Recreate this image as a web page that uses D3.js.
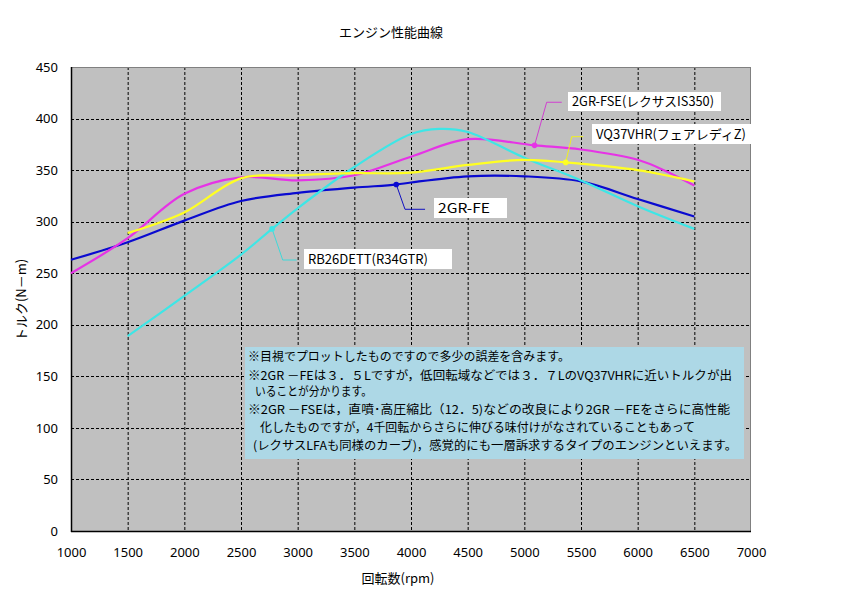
<!DOCTYPE html>
<html><head><meta charset="utf-8">
<script src="https://cdn.jsdelivr.net/npm/d3@7/dist/d3.min.js"></script>
<style>
body{margin:0;background:#fff;}
text{font-family:"Noto Sans CJK JP","Noto Sans",sans-serif;fill:#000;}
</style></head>
<body><svg id="c" width="856" height="597"></svg>
<script>
// ---- data ----
const xTicks = [1000,1500,2000,2500,3000,3500,4000,4500,5000,5500,6000,6500,7000];
const yTicks = [0,50,100,150,200,250,300,350,400,450];

const rpmFE    = [1000,1500,2000,2500,3000,3500,3870,4000,4500,5000,5500,6000,6500];
const torqueFE = [263, 280, 301, 320, 328, 333, 336, 338, 344, 344, 339, 322, 305];

const rpmFSE    = [1000,1500,2000,2500,3000,3500,4000,4500,5090,5500,6000,6250,6500];
const torqueFSE = [250, 284, 327, 343, 340, 345, 363, 380, 374, 370, 360, 349, 335];

const rpmRB    = [1500,2000,2500,2774,3000,3500,4000,4250,4500,5000,5500,6000,6500];
const torqueRB = [189, 228, 268, 293, 313, 353, 385, 390, 387, 362, 340, 315, 293];

const rpmVQ    = [1500,2000,2500,3000,3500,4000,4500,5000,5365,6000,6500];
const torqueVQ = [289, 309, 342, 345, 347, 347.5, 355, 360, 357.5, 350, 339];

const seriesNames = ["2GR-FE","2GR-FSE(レクサスIS350)","RB26DETT(R34GTR)","VQ37VHR(フェアレディZ)"];
const labelPointIndex = [6, 8, 3, 8];

const title = "エンジン性能曲線";
const xTitle = "回転数(rpm)";
const yTitle = "トルク(N－m)";
const noteLines = [
 "※目視でプロットしたものですので多少の誤差を含みます。",
 "※2GR －FEは３．５Lですが，低回転域などでは３．７LのVQ37VHRに近いトルクが出",
 "いることが分かります。",
 "※2GR －FSEは，直噴･高圧縮比（12．5)などの改良により2GR －FEをさらに高性能",
 "化したものですが，4千回転からさらに伸びる味付けがなされていることもあって",
 "(レクサスLFAも同様のカーブ)，感覚的にも一層訴求するタイプのエンジンといえます。"
];

// ---- layout ----
const svg = d3.select("#c");
const L=71,R=751,T=67,B=531;
const x = d3.scaleLinear().domain([1000,7000]).range([L,R]);
const y = d3.scaleLinear().domain([0,450]).range([B,T]);

svg.append("rect").attr("width",856).attr("height",597).attr("fill","#fff");
svg.append("rect").attr("x",L).attr("y",T).attr("width",R-L).attr("height",B-T).attr("fill","#c0c0c0");

// grid
const g = svg.append("g");
g.selectAll("line.v").data(xTicks.slice(1,-1)).enter().append("line")
 .attr("x1",d=>x(d)+0.5).attr("x2",d=>x(d)+0.5).attr("y1",T).attr("y2",B)
 .attr("stroke","#000").attr("stroke-width",1).attr("stroke-dasharray","3,2");
g.selectAll("line.h").data(yTicks.slice(1,-1)).enter().append("line")
 .attr("y1",d=>Math.round(y(d))+0.5).attr("y2",d=>Math.round(y(d))+0.5).attr("x1",L).attr("x2",R)
 .attr("stroke","#000").attr("stroke-width",1).attr("stroke-dasharray","3,2");
// frame
svg.append("line").attr("x1",L).attr("x2",R).attr("y1",T+0.5).attr("y2",T+0.5).attr("stroke","#808080");
svg.append("line").attr("x1",R-0.5).attr("x2",R-0.5).attr("y1",T).attr("y2",B).attr("stroke","#808080");
svg.append("line").attr("x1",L+0.5).attr("x2",L+0.5).attr("y1",T).attr("y2",B+1).attr("stroke","#000").attr("stroke-width",1.5);
svg.append("line").attr("x1",L).attr("x2",R).attr("y1",B+0.5).attr("y2",B+0.5).attr("stroke","#000").attr("stroke-width",1.5);

// axes
const ya = svg.append("g").attr("transform",`translate(${L},0)`)
 .call(d3.axisLeft(y).tickValues(yTicks).tickSize(0).tickPadding(13));
ya.select(".domain").remove();
ya.selectAll("text").style("font-size","13px").style("font-family","'Noto Sans',sans-serif");
const xa = svg.append("g").attr("transform",`translate(0,${B})`)
 .call(d3.axisBottom(x).tickValues(xTicks).tickFormat(d3.format("d")).tickSize(0).tickPadding(17));
xa.select(".domain").remove();
xa.selectAll("text").style("font-size","13px").style("font-family","'Noto Sans',sans-serif");

// titles
svg.append("text").attr("x",391).attr("y",37).attr("text-anchor","middle").style("font-size","13px").text(title);
svg.append("text").attr("x",398).attr("y",583).attr("text-anchor","middle").style("font-size","13px").text(xTitle);
svg.append("text").attr("transform","translate(26,300) rotate(-90)").attr("text-anchor","middle").style("font-size","13px").text(yTitle);

// series
const series = [
 {rpm:rpmFE, tq:torqueFE, color:"#0a0ad0", call:"#1010c0"},
 {rpm:rpmFSE, tq:torqueFSE, color:"#e633e6", call:"#d040d0"},
 {rpm:rpmRB, tq:torqueRB, color:"#3ee6e6", call:"#40d8d8"},
 {rpm:rpmVQ, tq:torqueVQ, color:"#ffff22", call:"#f0f020"}
];
const line = d3.line().x(d=>x(d[0])).y(d=>y(d[1])).curve(d3.curveCatmullRom.alpha(0.5));
series.forEach(s=>{
  svg.append("path").attr("d",line(s.rpm.map((r,i)=>[r,s.tq[i]])))
   .attr("fill","none").attr("stroke",s.color).attr("stroke-width",2.2);
});

// callouts
const callouts = [
 {el:[3947,312], end:4124, box:[434,198,73,20], tw:52},
 {el:[5197,415.8], end:5330, box:[568,92,153,19], tw:142},
 {el:[2868,262.8], end:2991, box:[304,249,148,20], tw:120},
 {el:[5418,382.4], end:5520, box:[592,124,161,20], tw:150}
];
series.forEach((s,i)=>{
  const k = labelPointIndex[i];
  const px = x(s.rpm[k]), py = y(s.tq[k]);
  const c = callouts[i];
  const ex = x(c.el[0]), ey = y(c.el[1]), fx = x(c.end);
  svg.append("polyline").attr("points",`${px},${py} ${ex},${ey} ${fx},${ey}`)
   .attr("fill","none").attr("stroke",s.call).attr("stroke-width",1);
  svg.append("circle").attr("cx",px).attr("cy",py).attr("r",2.8).attr("fill",s.color);
  const [bx,by,bw,bh] = c.box;
  svg.append("rect").attr("x",bx).attr("y",by).attr("width",bw).attr("height",bh).attr("fill","#fff");
  svg.append("text").attr("x",bx+4).attr("y",by+bh/2+4.5).style("font-size","13px")
   .attr("textLength",c.tw).attr("lengthAdjust","spacingAndGlyphs").text(seriesNames[i]);
});

// note box
svg.append("rect").attr("x",245).attr("y",347).attr("width",499).attr("height",112).attr("fill","#add8e6");
const noteX = [248,248,255,248,260,253];
const noteY = [361,380,396,414,432,450];
const noteW = [322,484,117,482,435,484];
noteLines.forEach((t,i)=>{
  svg.append("text").attr("x",noteX[i]).attr("y",noteY[i]).style("font-size","12px")
   .attr("textLength",noteW[i]).attr("lengthAdjust","spacingAndGlyphs").text(t);
});
</script></body></html>
